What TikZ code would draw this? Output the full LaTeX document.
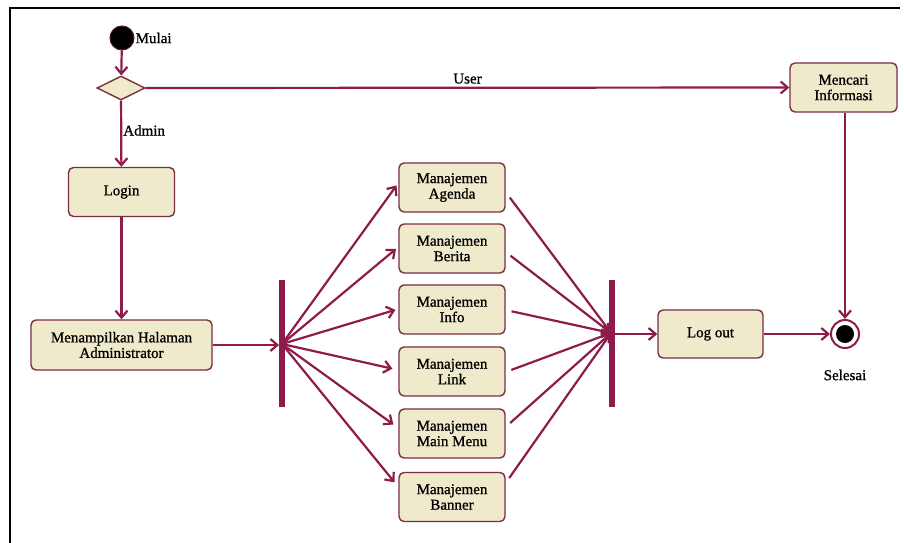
\documentclass[tikz,border=0pt]{standalone}
\usepackage{fontspec}
\setmainfont{Liberation Serif}[BoldFont=Liberation Serif,BoldFeatures={FakeBold=1}]
\usetikzlibrary{arrows.meta,shapes.geometric,calc}
\definecolor{flow}{HTML}{8E1B4B}
\definecolor{boxline}{HTML}{7A2E40}
\definecolor{boxfill}{HTML}{EEEACB}
\begin{document}
\begin{tikzpicture}[x=1pt,y=-1pt,
  font=\fontsize{15}{15.5}\selectfont\bfseries,
  act/.style={draw=boxline,fill=boxfill,line width=1.4pt,rounded corners=5pt,
    align=center,inner sep=2pt,minimum width=106pt,minimum height=49pt},
  bar/.style={fill=flow,draw=none,minimum width=5.5pt,minimum height=127pt,inner sep=0pt},
  flowline/.style={draw=flow,line width=2.2pt},
  arr/.style={flowline,-{Straight Barb[length=7pt,width=12pt]}},
  lbl/.style={inner sep=1pt}]
\useasboundingbox (0,0) rectangle (905,543);
% frame
\draw[line width=2pt] (900,8) -- (10,8) -- (10,543);

% nodes
\node[circle,fill=black,draw=flow!60!black,line width=1pt,minimum size=24pt,inner sep=0pt] (start) at (122,38) {};
\node[lbl,anchor=west] (mulai) at (start.east) {Mulai};
\node[diamond,draw=boxline,fill=boxfill,line width=1.4pt,minimum width=48pt,minimum height=24pt,inner sep=0pt] (dec) at (121,88) {};
\node[act] (login) at (121.5,192) {Login};
\node[act,minimum width=181pt,minimum height=50pt] (menu) at (121.5,345) {Menampilkan Halaman\\Administrator};
\node[bar] (fork) at (282,343.5) {};
\node[act] (agenda) at (452,187.5) {Manajemen\\Agenda};
\node[act] (berita) at (452,248.5) {Manajemen\\Berita};
\node[act] (info) at (452,309.5) {Manajemen\\Info};
\node[act] (link) at (452,371.5) {Manajemen\\Link};
\node[act] (mainmenu) at (452,433.5) {Manajemen\\Main Menu};
\node[act] (banner) at (452,497) {Manajemen\\Banner};
\node[bar] (join) at (612,343.5) {};
\node[act,minimum width=105pt,minimum height=48pt] (logout) at (710.5,334) {Log out};
\node[act,minimum width=107pt] (mencari) at (843.5,87.5) {Mencari\\Informasi};
\node[circle,draw=flow,fill=white,line width=2pt,minimum size=28pt,inner sep=0pt] (end) at (845,334) {};
\node[circle,fill=black,minimum size=18pt,inner sep=0pt] at (end) {};
\node[lbl] (selesai) at (845,375) {Selesai};

\coordinate (forkpt) at (fork.center |- 0,344);
\coordinate (joinpt) at ($(join.west |- 0,333)+(2,0)$);

% connectors
\draw[arr] (start) -- (dec);
\draw[arr] (dec) -- node[lbl,right,pos=0.45] (admin) {Admin} (login);
\draw[arr] (dec.east) -- node[lbl,above=2pt,pos=0.5] (user) {User} (mencari.west);
\draw[arr] (login) -- (menu);
\draw[arr] (menu.east) -- (fork.west |- 0,345);

\draw[arr,shorten >=3pt] (forkpt) -- ([yshift=4.5pt]agenda.west);
\draw[arr,shorten >=3pt] (forkpt) -- ([yshift=1.5pt]berita.west);
\draw[arr,shorten >=3pt] (forkpt) -- ([yshift=0.5pt]info.west);
\draw[arr,shorten >=6pt] (forkpt) -- ([yshift=1.5pt]link.west);
\draw[arr,shorten >=6pt] (forkpt) -- ([yshift=5.5pt]mainmenu.west);
\draw[arr,shorten >=6pt] (forkpt) -- ([yshift=10pt]banner.west);

\draw[arr,shorten <=7pt] ([yshift=-4.5pt]agenda.east) -- (joinpt);
\draw[arr,shorten <=6pt] ([yshift=-3.5pt]berita.east) -- (joinpt);
\draw[arr,shorten <=6pt] ([yshift=-0.5pt]info.east) -- (joinpt);
\draw[arr,shorten <=6pt] ([yshift=-0.5pt]link.east) -- (joinpt);
\draw[arr,shorten <=6pt] ([yshift=6.5pt]mainmenu.east) -- (joinpt);
\draw[arr,shorten <=6pt] ([yshift=14pt]banner.east) -- (joinpt);

\draw[arr] (join.east |- logout.west) -- (logout.west);
\draw[arr] (logout.east) -- (end.west);
\draw[arr] (mencari.south -| end.north) -- (end.north);
\end{tikzpicture}
\end{document}
